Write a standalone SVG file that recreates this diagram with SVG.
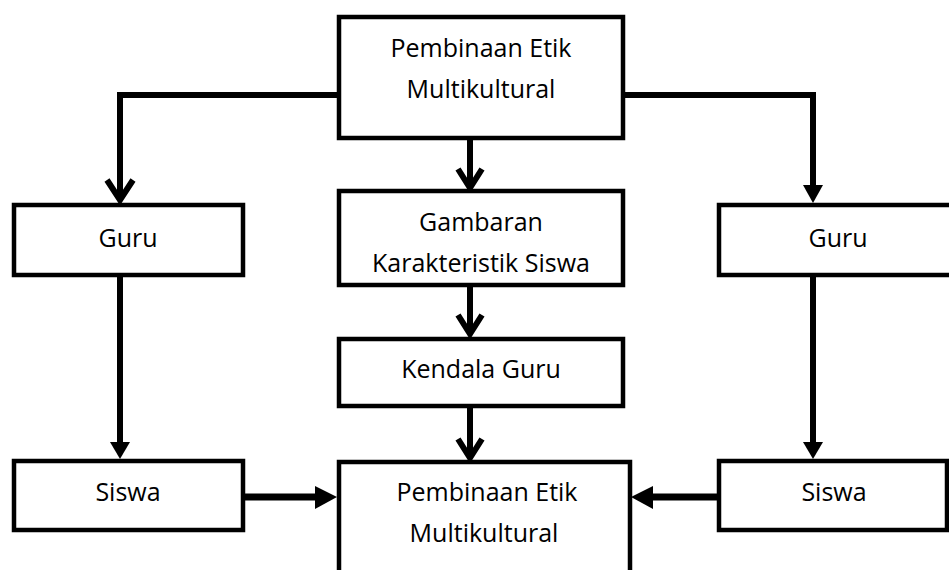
<svg xmlns="http://www.w3.org/2000/svg" width="949" height="570" viewBox="0 0 949 570">
<style>
.box{fill:#fff;stroke:#000;stroke-width:4.5}
.t{font-family:"Open Sans","Liberation Sans",sans-serif;font-size:25px;fill:#000;text-anchor:middle}
.ln{fill:none;stroke:#000;stroke-width:6}
.thick{fill:none;stroke:#000;stroke-width:7}
.chev{fill:none;stroke:#000;stroke-width:6;stroke-linejoin:miter}
.tri{fill:#000;stroke:none}
</style>
<rect width="949" height="570" fill="#fff"/>
<g id="connectors">
<path class="ln" d="M339 95 H120 V199"/>
<path class="chev" d="M107 180 L120 200 L133 180"/>
<path class="ln" d="M623 95 H813 V188"/>
<polygon class="tri" points="803,185 823,185 813,203"/>
<path class="ln" d="M470 140 V187"/>
<path class="chev" d="M458 169 L470 188 L482 169"/>
<path class="ln" d="M470 287 V333"/>
<path class="chev" d="M458 315 L470 334 L482 315"/>
<path class="ln" d="M470 408 V457"/>
<path class="chev" d="M458 439 L470 458 L482 439"/>
<path class="ln" d="M120 277 V444"/>
<polygon class="tri" points="110,442 130,442 120,459"/>
<path class="ln" d="M813 277 V444"/>
<polygon class="tri" points="803,442 823,442 813,459"/>
<path class="thick" d="M245 497 H318"/>
<polygon class="tri" points="315,486 315,509 337,497"/>
<path class="thick" d="M717 497 H650"/>
<polygon class="tri" points="653,486 653,509 631,497"/>
</g>
<g id="top">
<rect class="box" x="339" y="17" width="284" height="121"/>
<text class="t" x="481" y="57">Pembinaan Etik</text>
<text class="t" x="481" y="98">Multikultural</text>
</g>
<g id="guru-left">
<rect class="box" x="14" y="205" width="229" height="70"/>
<text class="t" x="128" y="247">Guru</text>
</g>
<g id="guru-right">
<rect class="box" x="719" y="205" width="260" height="70"/>
<text class="t" x="838" y="247">Guru</text>
</g>
<g id="gambaran">
<rect class="box" x="339" y="191" width="284" height="94"/>
<text class="t" x="481" y="231">Gambaran</text>
<text class="t" x="481" y="272">Karakteristik Siswa</text>
</g>
<g id="kendala">
<rect class="box" x="339" y="339" width="284" height="67"/>
<text class="t" x="481" y="378">Kendala Guru</text>
</g>
<g id="siswa-left">
<rect class="box" x="14" y="461" width="229" height="69"/>
<text class="t" x="128" y="501">Siswa</text>
</g>
<g id="siswa-right">
<rect class="box" x="719" y="461" width="228" height="69"/>
<text class="t" x="834" y="501">Siswa</text>
</g>
<g id="bottom">
<rect class="box" x="339" y="462" width="291" height="200"/>
<text class="t" x="487" y="501">Pembinaan Etik</text>
<text class="t" x="484" y="542">Multikultural</text>
</g>
</svg>
